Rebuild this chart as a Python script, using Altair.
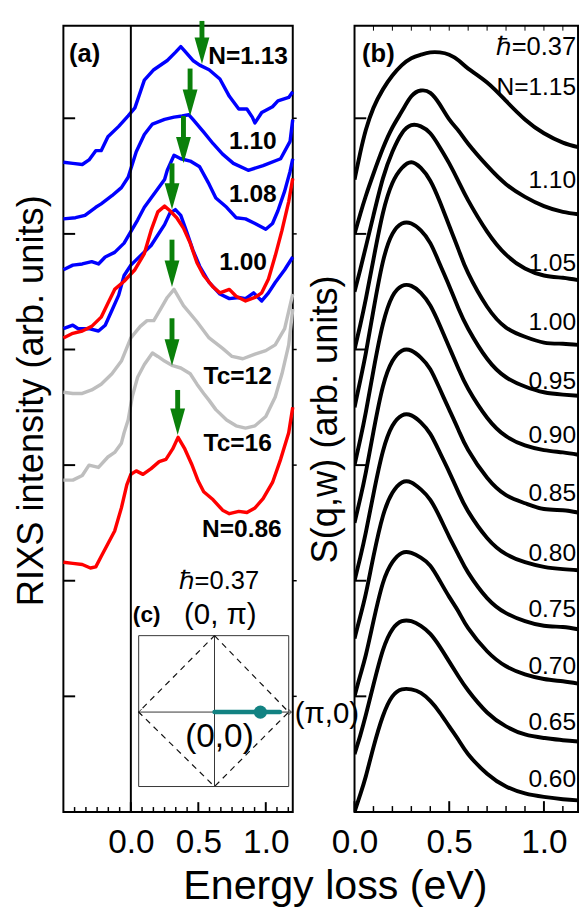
import altair as alt
import pandas as pd

FONT = "Liberation Sans"
BLUE, RED, GREY, GREEN, TEAL = "#0000ff", "#ff0000", "#bebebe", "#0a800a", "#128282"

# ---------------- panel (a): RIXS spectra (energy eV, intensity arb. units) ----------------
a113_e = [-0.5, -0.43, -0.36, -0.31, -0.26, -0.22, -0.17, -0.09, -0.02, 0.03, 0.10, 0.17, 0.27, 0.33, 0.37,
          0.40, 0.46, 0.51, 0.58, 0.66, 0.73, 0.80, 0.86, 0.90, 0.92, 0.97, 1.05, 1.09, 1.17, 1.2]
a113_u = [5.62, 5.61, 5.60, 5.64, 5.72, 5.72, 5.84, 5.93, 6.02, 6.09, 6.33, 6.42, 6.50, 6.57, 6.62,
          6.58, 6.50, 6.46, 6.42, 6.34, 6.19, 6.08, 6.08, 6.01, 5.96, 6.05, 6.10, 6.15, 6.18, 6.23]
a110_e = [-0.5, -0.41, -0.34, -0.26, -0.22, -0.14, -0.07, -0.02, 0.04, 0.10, 0.16, 0.25, 0.32, 0.38, 0.43,
          0.46, 0.54, 0.61, 0.68, 0.76, 0.87, 0.98, 1.11, 1.18, 1.2]
a110_u = [5.13, 5.14, 5.16, 5.23, 5.26, 5.33, 5.40, 5.49, 5.71, 5.86, 5.95, 5.99, 6.01, 6.02, 6.03,
          5.99, 5.88, 5.78, 5.69, 5.61, 5.55, 5.59, 5.65, 5.80, 5.99]
a108_e = [-0.5, -0.43, -0.36, -0.29, -0.24, -0.19, -0.12, -0.05, -0.01, 0.05, 0.10, 0.15, 0.20, 0.25, 0.27,
          0.32, 0.37, 0.44, 0.51, 0.58, 0.63, 0.71, 0.78, 0.85, 0.92, 1.00, 1.05, 1.09, 1.14, 1.18, 1.2]
a108_u = [4.69, 4.73, 4.74, 4.76, 4.74, 4.80, 4.84, 4.92, 5.00, 5.12, 5.23, 5.31, 5.39, 5.47, 5.55,
          5.68, 5.65, 5.63, 5.58, 5.43, 5.31, 5.23, 5.14, 5.13, 5.09, 5.04, 5.09, 5.20, 5.37, 5.54, 5.65]
a100b_e = [-0.5, -0.43, -0.39, -0.31, -0.24, -0.19, -0.14, -0.09, -0.05, 0.00, 0.07, 0.15, 0.20, 0.25, 0.29,
           0.33, 0.37, 0.41, 0.46, 0.51, 0.58, 0.66, 0.73, 0.80, 0.85, 0.91, 0.97, 1.02, 1.07, 1.14, 1.2]
a100b_u = [4.18, 4.21, 4.18, 4.18, 4.16, 4.21, 4.34, 4.47, 4.64, 4.73, 4.81, 4.90, 4.99, 5.08, 5.18,
           5.21, 5.16, 5.03, 4.86, 4.72, 4.58, 4.48, 4.44, 4.45, 4.44, 4.49, 4.42, 4.49, 4.58, 4.69, 4.80]
a100r_e = [-0.5, -0.43, -0.36, -0.29, -0.22, -0.17, -0.12, -0.05, 0.03, 0.10, 0.15, 0.20, 0.25, 0.29, 0.34,
           0.39, 0.44, 0.49, 0.54, 0.61, 0.66, 0.73, 0.78, 0.85, 0.92, 0.97, 1.02, 1.07, 1.12, 1.17, 1.2]
a100r_u = [4.10, 4.14, 4.16, 4.20, 4.28, 4.40, 4.52, 4.59, 4.69, 4.83, 5.03, 5.19, 5.24, 5.20, 5.14,
           5.05, 4.92, 4.75, 4.64, 4.54, 4.49, 4.52, 4.46, 4.42, 4.45, 4.49, 4.61, 4.81, 5.03, 5.28, 5.48]
atc12_e = [-0.5, -0.43, -0.36, -0.29, -0.22, -0.14, -0.07, 0.00, 0.07, 0.12, 0.17, 0.22, 0.27, 0.32, 0.39,
           0.49, 0.58, 0.68, 0.75, 0.83, 0.92, 1.00, 1.07, 1.14, 1.2]
atc12_u = [3.63, 3.62, 3.62, 3.65, 3.70, 3.79, 3.90, 4.10, 4.20, 4.25, 4.25, 4.35, 4.45, 4.52, 4.38,
           4.24, 4.10, 4.01, 3.94, 3.92, 3.96, 3.99, 4.04, 4.18, 4.48]
atc16_e = [-0.5, -0.43, -0.36, -0.31, -0.24, -0.17, -0.12, -0.07, -0.05, -0.02, 0.01, 0.05, 0.10, 0.16, 0.20,
           0.25, 0.31, 0.37, 0.44, 0.49, 0.54, 0.58, 0.63, 0.71, 0.78, 0.85, 0.92, 1.00, 1.07, 1.12, 1.17, 1.2]
atc16_u = [2.87, 2.87, 2.91, 3.00, 2.98, 3.07, 3.11, 3.19, 3.28, 3.39, 3.59, 3.76, 3.87, 3.97, 3.94,
           3.90, 3.86, 3.84, 3.79, 3.70, 3.62, 3.56, 3.48, 3.39, 3.34, 3.32, 3.34, 3.42, 3.59, 3.79, 4.04, 4.35]
a086_e = [-0.5, -0.43, -0.36, -0.30, -0.26, -0.22, -0.17, -0.12, -0.07, -0.03, 0.00, 0.04, 0.09, 0.15, 0.21,
          0.26, 0.31, 0.35, 0.40, 0.45, 0.50, 0.54, 0.61, 0.68, 0.73, 0.80, 0.86, 0.92, 0.98, 1.05, 1.11, 1.17, 1.2]
a086_u = [2.16, 2.15, 2.14, 2.11, 2.12, 2.21, 2.32, 2.43, 2.63, 2.83, 2.92, 2.95, 2.92, 2.97, 3.03,
          3.05, 3.14, 3.24, 3.14, 3.01, 2.86, 2.77, 2.70, 2.61, 2.58, 2.60, 2.59, 2.63, 2.71, 2.85, 3.05, 3.28, 3.50]

# peak-marking arrows (energy, arrow tip, arrow tail)
arrow_e = [0.527, 0.439, 0.39, 0.305, 0.305, 0.305, 0.347]
arrow_tip = [6.47, 6.02, 5.61, 5.21, 4.54, 3.86, 3.26]
arrow_tail = [6.842, 6.43, 6.02, 5.61, 4.95, 4.27, 3.65]

a_label_text = ["N=1.13", "1.10", "1.08", "1.00", "Tc=12", "Tc=16", "N=0.86"]
a_label_e = [1.164, 1.081, 1.081, 1.009, 1.045, 1.045, 1.118]
a_label_u = [6.47, 5.73, 5.28, 4.69, 3.70, 3.12, 2.38]

# ---------------- panel (b): S(q,w) ----------------
b_energy = [0, 0.03, 0.06, 0.1, 0.15, 0.2, 0.25, 0.3, 0.35, 0.4, 0.45, 0.5, 0.55, 0.6, 0.7, 0.8, 0.9, 1.0, 1.1, 1.18]
b060 = [0.00, 0.15, 0.31, 0.56, 0.83, 1.00, 1.06, 1.06, 1.03, 0.96, 0.86, 0.74, 0.62, 0.50, 0.33, 0.22, 0.16, 0.13, 0.11, 0.10]
b065 = [0.50, 0.66, 0.84, 1.10, 1.40, 1.58, 1.65, 1.65, 1.61, 1.54, 1.43, 1.30, 1.17, 1.05, 0.86, 0.74, 0.67, 0.64, 0.62, 0.61]
b070 = [1.00, 1.18, 1.36, 1.65, 1.98, 2.16, 2.24, 2.24, 2.20, 2.13, 2.00, 1.86, 1.73, 1.59, 1.39, 1.26, 1.19, 1.15, 1.13, 1.11]
b075 = [1.50, 1.69, 1.89, 2.21, 2.56, 2.76, 2.85, 2.85, 2.79, 2.70, 2.55, 2.38, 2.22, 2.07, 1.85, 1.72, 1.65, 1.61, 1.60, 1.58]
b080 = [2.00, 2.20, 2.42, 2.75, 3.12, 3.34, 3.43, 3.43, 3.37, 3.27, 3.11, 2.94, 2.76, 2.60, 2.37, 2.23, 2.16, 2.12, 2.10, 2.09]
b085 = [2.50, 2.71, 2.94, 3.29, 3.68, 3.90, 3.99, 3.99, 3.93, 3.83, 3.66, 3.48, 3.30, 3.13, 2.89, 2.74, 2.67, 2.62, 2.61, 2.59]
b090 = [3.00, 3.22, 3.46, 3.82, 4.22, 4.46, 4.55, 4.55, 4.49, 4.38, 4.21, 4.02, 3.83, 3.66, 3.41, 3.25, 3.17, 3.13, 3.11, 3.09]
b095 = [3.50, 3.73, 3.97, 4.34, 4.76, 5.00, 5.09, 5.09, 5.03, 4.92, 4.74, 4.55, 4.35, 4.18, 3.92, 3.76, 3.68, 3.63, 3.61, 3.60]
b100 = [4.00, 4.21, 4.44, 4.78, 5.18, 5.44, 5.57, 5.62, 5.57, 5.46, 5.28, 5.07, 4.86, 4.66, 4.37, 4.19, 4.11, 4.06, 4.05, 4.04]
b105 = [4.50, 4.69, 4.89, 5.16, 5.48, 5.71, 5.87, 5.94, 5.93, 5.87, 5.75, 5.61, 5.45, 5.29, 5.02, 4.82, 4.70, 4.64, 4.62, 4.60]
b110 = [5.00, 5.17, 5.33, 5.52, 5.74, 5.92, 6.06, 6.19, 6.24, 6.22, 6.12, 5.99, 5.89, 5.78, 5.59, 5.43, 5.32, 5.24, 5.19, 5.17]
b115 = [5.47, 5.70, 5.90, 6.09, 6.25, 6.37, 6.46, 6.52, 6.55, 6.57, 6.57, 6.55, 6.50, 6.43, 6.31, 6.15, 5.99, 5.87, 5.79, 5.75]

b_label_text = ["N=1.15", "1.10", "1.05", "1.00", "0.95", "0.90", "0.85", "0.80", "0.75", "0.70", "0.65", "0.60"]
b_label_u = [6.20, 5.40, 4.68, 4.17, 3.66, 3.19, 2.69, 2.17, 1.69, 1.19, 0.71, 0.22]

# axis tick values
y_ticks = [1, 2, 3, 4, 5, 6]
x_major = [0.0, 0.5, 1.0]
a_minor = [-0.417, -0.333, -0.25, -0.167, -0.083, 0.083, 0.167, 0.25, 0.333, 0.417,
           0.583, 0.667, 0.75, 0.833, 0.917, 1.083, 1.167]
b_minor = [0.1, 0.2, 0.3, 0.4, 0.6, 0.7, 0.8, 0.9, 1.1]

# ---------------- helpers ----------------
WA, WB, H = 234, 228, 802
xa = alt.Scale(domain=[-0.5, 1.2], nice=False, zero=False)
xb = alt.Scale(domain=[0, 1.18], nice=False, zero=False)
ys = alt.Scale(domain=[0, 6.8], nice=False, zero=False)


def xaxis(title=None, **kw):
    return alt.Axis(values=x_major, format=".1f", labelFontSize=34, labelPadding=41, labelBaseline="alphabetic",
                    labelFlush=False, labelOverlap=False, labelColor="black", ticks=False, tickSize=0,
                    domain=False, grid=False, title=title, titleFontSize=42, titleFontWeight="normal",
                    titleColor="black", titleBaseline="alphabetic", titleAlign="center", **kw)


def yaxis(title, **kw):
    return alt.Axis(labels=False, ticks=False, tickSize=0, domain=False, grid=False, title=title,
                    titleFontSize=37, titleFontWeight="normal", titleColor="black", titleAngle=270,
                    titleBaseline="alphabetic", titleAlign="center", **kw)


AXES = {
    "a": (xaxis("Energy loss (eV)", titleX=277, titleY=88),
          yaxis("RIXS intensity (arb. units)", titleX=-21, titleY=382)),
    "b": (xaxis(None), yaxis("S(q,w) (arb. units)", titleX=-18, titleY=401)),
}
XS = {"a": xa, "b": xb}


def X(p, field="E"):
    return alt.X(f"{field}:Q", scale=XS[p], axis=AXES[p][0])


def Y(p, field="U"):
    return alt.Y(f"{field}:Q", scale=ys, axis=AXES[p][1])


def curves(pairs):
    return pd.concat([pd.DataFrame({"E": e, "U": u, "curve": n}) for n, e, u in pairs], ignore_index=True)


def text_layer(df, p, **mk):
    return alt.Chart(df).mark_text(baseline="alphabetic", color="black", **mk).encode(
        x=X(p), y=Y(p), text="t:N")


# ---------------- panel (a) ----------------
blue_df = curves([("1.13", a113_e, a113_u), ("1.10", a110_e, a110_u), ("1.08", a108_e, a108_u),
                  ("1.00", a100b_e, a100b_u)])
grey_df = curves([("tc12", atc12_e, atc12_u), ("tc16", atc16_e, atc16_u)])
red_df = curves([("1.00r", a100r_e, a100r_u), ("0.86", a086_e, a086_u)])


def spectra(df, color):
    return alt.Chart(df).mark_line(color=color, strokeWidth=3.5, strokeJoin="round").encode(
        x=X("a"), y=Y("a"), detail="curve:N")


blue, grey, red = spectra(blue_df, BLUE), spectra(grey_df, GREY), spectra(red_df, RED)

zero_line = alt.Chart(pd.DataFrame({"E": [0.0]})).mark_rule(color="black", strokeWidth=2).encode(
    x=X("a"), y=alt.value(0), y2=alt.value(H))

ytick_df = pd.DataFrame({"U": y_ticks})
a_ytick_l = alt.Chart(ytick_df).mark_rule(color="black", strokeWidth=2).encode(
    y=Y("a"), x=alt.value(0), x2=alt.value(12))
a_ytick_r = alt.Chart(ytick_df).mark_rule(color="black", strokeWidth=1.5).encode(
    y=Y("a"), x=alt.value(WA), x2=alt.value(WA + 4))
a_xmaj = alt.Chart(pd.DataFrame({"E": x_major})).mark_rule(color="black", strokeWidth=2).encode(
    x=X("a"), y=alt.value(H), y2=alt.value(H - 10))
a_xmin = alt.Chart(pd.DataFrame({"E": a_minor})).mark_rule(color="black", strokeWidth=1.5).encode(
    x=X("a"), y=alt.value(H), y2=alt.value(H - 5))

arrows_df = pd.DataFrame({"E": arrow_e, "tip": arrow_tip, "tail": arrow_tail})
arrows_df["base"] = arrows_df["tip"] + 0.2
shafts = alt.Chart(arrows_df).mark_rule(color=GREEN, strokeWidth=5).encode(
    x=X("a"), y=Y("a", "tail"), y2="base:Q")
heads = alt.Chart(arrows_df).mark_point(shape="M-0.56,-2L0.56,-2L0,0Z", size=729, filled=True,
                                        color=GREEN, opacity=1, strokeWidth=0).encode(
    x=X("a"), y=Y("a", "tip"))

a_labels = text_layer(pd.DataFrame({"t": a_label_text, "E": a_label_e, "U": a_label_u}), "a",
                      align="right", fontSize=25, fontWeight="bold")
a_tag = text_layer(pd.DataFrame({"t": ["(a)"], "E": [-0.458], "U": [6.49]}), "a",
                   align="left", fontSize=26, fontWeight="bold")
c_tag = text_layer(pd.DataFrame({"t": ["(c)"], "E": [0.015], "U": [1.64]}), "a",
                   align="left", fontSize=23, fontWeight="bold")
hbar_a = text_layer(pd.DataFrame({"t": ["\u210f=0.37"], "E": [0.354], "U": [1.93]}), "a",
                    align="left", fontSize=26)
q_top = text_layer(pd.DataFrame({"t": ["(0, \u03c0)"], "E": [0.663], "U": [1.63]}), "a",
                   align="center", fontSize=30)
q_origin = text_layer(pd.DataFrame({"t": ["(0,0)"], "E": [0.657], "U": [0.56]}), "a",
                      align="center", fontSize=34)
q_right = text_layer(pd.DataFrame({"t": ["(\u03c0,0)"], "E": [1.215], "U": [0.77]}), "a",
                     align="left", fontSize=30)

# inset (c): Brillouin-zone sketch
inset_box = alt.Chart(pd.DataFrame({"E": [0.058], "E2": [1.17], "U": [0.22], "U2": [1.525]})).mark_rect(
    fillOpacity=0, stroke="#333333", strokeWidth=1).encode(x=X("a"), x2="E2:Q", y=Y("a"), y2="U2:Q")
inset_v = alt.Chart(pd.DataFrame({"E": [0.62], "U": [0.22], "U2": [1.525]})).mark_rule(
    color="#333333", strokeWidth=1).encode(x=X("a"), y=Y("a"), y2="U2:Q")
inset_h = alt.Chart(pd.DataFrame({"E": [0.058], "E2": [1.19], "U": [0.864]})).mark_rule(
    color="#333333", strokeWidth=1).encode(x=X("a"), x2="E2:Q", y=Y("a"))
chev_r = alt.Chart(pd.DataFrame({"E": [1.19], "U": [0.864]})).mark_point(
    shape="M-1,-1L0,0L-1,1", size=36, filled=False, color="#333333", strokeWidth=1, opacity=1).encode(
    x=X("a"), y=Y("a"))
chev_l = alt.Chart(pd.DataFrame({"E": [0.058], "U": [0.864]})).mark_point(
    shape="M1,-1L0,0L1,1", size=36, filled=False, color="#333333", strokeWidth=1, opacity=1).encode(
    x=X("a"), y=Y("a"))
diamond = alt.Chart(pd.DataFrame({"E": [0.62, 1.17, 0.62, 0.058, 0.62],
                                  "U": [1.525, 0.864, 0.22, 0.864, 1.525],
                                  "i": [0, 1, 2, 3, 4]})).mark_line(
    color="#111111", strokeWidth=1.2, strokeDash=[6, 5]).encode(x=X("a"), y=Y("a"), order="i:Q")
q_path = alt.Chart(pd.DataFrame({"E": [0.62], "E2": [1.105], "U": [0.864]})).mark_rule(
    color=TEAL, strokeWidth=4.5, strokeCap="round").encode(x=X("a"), x2="E2:Q", y=Y("a"))
q_dot = alt.Chart(pd.DataFrame({"E": [0.96], "U": [0.864]})).mark_point(
    shape="circle", size=180, filled=True, color=TEAL, opacity=1).encode(x=X("a"), y=Y("a"))

panel_a = alt.layer(blue, grey, red, zero_line, a_ytick_l, a_ytick_r, a_xmaj, a_xmin, shafts, heads,
                    a_labels, a_tag, inset_box, inset_v, inset_h, chev_l, chev_r, diamond, q_path, q_dot,
                    c_tag, hbar_a, q_top, q_origin, q_right).properties(width=WA, height=H)

# ---------------- panel (b) ----------------
b_df = curves([(n, b_energy, v) for n, v in [("0.60", b060), ("0.65", b065), ("0.70", b070), ("0.75", b075),
                                             ("0.80", b080), ("0.85", b085), ("0.90", b090), ("0.95", b095),
                                             ("1.00", b100), ("1.05", b105), ("1.10", b110), ("1.15", b115)]])
b_lines = alt.Chart(b_df).mark_line(color="black", strokeWidth=4, interpolate="natural", clip=True).encode(
    x=X("b"), y=Y("b"), detail="curve:N")
b_ytick = alt.Chart(ytick_df).mark_rule(color="black", strokeWidth=2).encode(
    y=Y("b"), x=alt.value(0), x2=alt.value(12))
b_xmaj = alt.Chart(pd.DataFrame({"E": x_major})).mark_rule(color="black", strokeWidth=2).encode(
    x=X("b"), y=alt.value(H), y2=alt.value(H - 11))
b_xmin = alt.Chart(pd.DataFrame({"E": b_minor})).mark_rule(color="black", strokeWidth=1.5).encode(
    x=X("b"), y=alt.value(H), y2=alt.value(H - 6))
b_top = alt.Chart(pd.DataFrame({"E": b_minor + [0.5, 1.0]})).mark_rule(color="black", strokeWidth=1).encode(
    x=X("b"), y=alt.value(0), y2=alt.value(5))
b_labels = text_layer(pd.DataFrame({"t": b_label_text, "E": [1.17] * len(b_label_text), "U": b_label_u}), "b",
                      align="right", fontSize=25)
hbar_b = text_layer(pd.DataFrame({"t": ["\u210f=0.37"], "E": [1.17], "U": [6.55]}), "b",
                    align="right", fontSize=26)
b_tag = text_layer(pd.DataFrame({"t": ["(b)"], "E": [0.04], "U": [6.49]}), "b",
                   align="left", fontSize=26, fontWeight="bold")

panel_b = alt.layer(b_lines, b_ytick, b_xmaj, b_xmin, b_top, b_labels, hbar_b, b_tag).properties(
    width=WB, height=H)

chart = alt.hconcat(panel_a, panel_b, spacing=63, bounds="flush").properties(
    padding={"left": 3.5, "top": 0, "right": 0, "bottom": 0}
).configure(font=FONT).configure_view(stroke="black", strokeWidth=2)

chart.save("out.html", embed_options={"renderer": "svg", "actions": False})
